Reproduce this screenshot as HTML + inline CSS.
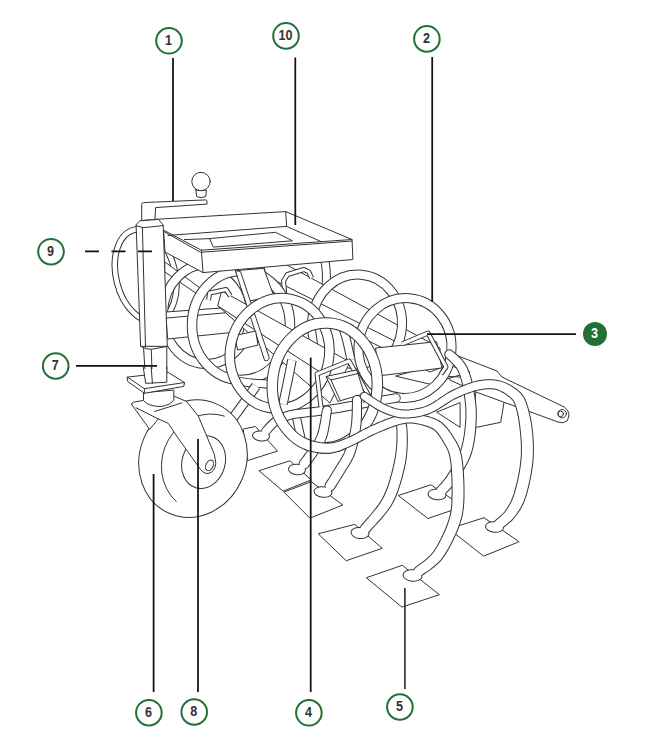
<!DOCTYPE html>
<html><head><meta charset="utf-8"><style>
html,body{margin:0;padding:0;background:#fff;width:647px;height:756px;overflow:hidden}
svg{display:block}
.d{fill:#fff;stroke:#333;stroke-width:1.0;stroke-linejoin:round;stroke-linecap:round}
.n{fill:none;stroke:#333;stroke-width:1.0;stroke-linejoin:round;stroke-linecap:round}
.ld{stroke:#111;stroke-width:1.75;fill:none}
.c{fill:#fff;stroke:#236f38;stroke-width:2}
.t{font-family:"Liberation Sans",sans-serif;font-weight:bold;font-size:14px;fill:#333;text-anchor:middle}
</style></head><body>
<svg width="647" height="756" viewBox="0 0 647 756">
<g id="drawing">
<path class="d" d="M476.4,389.8 L504.2,401.4 L500.7,422.3 L472.9,428.1 Z"/>
<path class="d" d="M453,354 L497,371 L502,377 L564.5,407.2 Q572,413 567,421 Q563,424 558,422 L476,392 L450,380 Z"/>
<circle class="d" cx="562.2" cy="413.7" r="4.2"/>
<circle class="n" cx="560.6" cy="413.9" r="2.8"/>
<path class="d" d="M396,376 L442,363 L470,372 L430,384 Z"/>
<path class="d" d="M437,412 L460.1,402.6 L460.1,427 Z"/>
<path class="n" d="M439.3,376 L460,377"/>
<path d="M324,258 Q327.5,268 326,290" fill="none" stroke="#333" stroke-width="9.00" stroke-linecap="butt" stroke-linejoin="round"/>
<path d="M324,258 Q327.5,268 326,290" fill="none" stroke="#fff" stroke-width="7.00" stroke-linecap="butt" stroke-linejoin="round"/>
<path class="d" d="M264,262 L274,258 L440,348 L440,368 L430,372 L268,290 Z"/>
<path class="n" d="M266,276 L432,360"/>
<path d="M284.7,293 L283.5,281 L287.5,274.5 L304,269.5 L308.6,271.7 L311.7,278" fill="none" stroke="#333" stroke-width="5.00" stroke-linecap="butt" stroke-linejoin="round"/>
<path d="M284.7,293 L283.5,281 L287.5,274.5 L304,269.5 L308.6,271.7 L311.7,278" fill="none" stroke="#fff" stroke-width="3.00" stroke-linecap="butt" stroke-linejoin="round"/>
<ellipse cx="357" cy="324" rx="45" ry="49.5" transform="rotate(5 357 324)" fill="none" stroke="#333" stroke-width="10.00"/>
<ellipse cx="357" cy="324" rx="45" ry="49.5" transform="rotate(5 357 324)" fill="none" stroke="#fff" stroke-width="8.00"/>
<ellipse cx="405" cy="348" rx="46.5" ry="50" transform="rotate(5 405 348)" fill="none" stroke="#333" stroke-width="10.00"/>
<ellipse cx="405" cy="348" rx="46.5" ry="50" transform="rotate(5 405 348)" fill="none" stroke="#fff" stroke-width="8.00"/>
<path class="d" d="M376,348 L436.6,341.7 L441.9,368 L378.8,375.9 Z"/>
<path d="M402,344 L428,333 L446,367 L441,374" fill="none" stroke="#333" stroke-width="5.00" stroke-linecap="butt" stroke-linejoin="round"/>
<path d="M402,344 L428,333 L446,367 L441,374" fill="none" stroke="#fff" stroke-width="3.00" stroke-linecap="butt" stroke-linejoin="round"/>
<ellipse cx="145.6" cy="275.4" rx="29.5" ry="47" transform="rotate(-14 145.6 275.4)" fill="none" stroke="#333" stroke-width="6.50"/>
<ellipse cx="145.6" cy="275.4" rx="29.5" ry="47" transform="rotate(-14 145.6 275.4)" fill="none" stroke="#fff" stroke-width="4.50"/>
<path class="d" d="M165,262 L200,288 L200,296 L165,272 Z"/>
<ellipse cx="207" cy="314" rx="44" ry="50" transform="rotate(3 207 314)" fill="none" stroke="#333" stroke-width="10.00"/>
<ellipse cx="207" cy="314" rx="44" ry="50" transform="rotate(3 207 314)" fill="none" stroke="#fff" stroke-width="8.00"/>
<path class="d" d="M166,312 L235,307 L236,332 L168,339 Z"/>
<path class="n" d="M167,318 L235,312"/>
<ellipse cx="241" cy="325.4" rx="49" ry="54.5" transform="rotate(0 241 325.4)" fill="none" stroke="#333" stroke-width="10.50"/>
<ellipse cx="241" cy="325.4" rx="49" ry="54.5" transform="rotate(0 241 325.4)" fill="none" stroke="#fff" stroke-width="8.50"/>
<path d="M319,326 C319.3,328.3 320.3,334.8 321,340 C321.7,345.2 322.7,354.2 323,357" fill="none" stroke="#333" stroke-width="9.00" stroke-linecap="butt" stroke-linejoin="round"/>
<path d="M319,326 C319.3,328.3 320.3,334.8 321,340 C321.7,345.2 322.7,354.2 323,357" fill="none" stroke="#fff" stroke-width="7.00" stroke-linecap="butt" stroke-linejoin="round"/>
<path d="M343,328 C343.7,330.3 345.7,336.7 347,342 C348.3,347.3 350.3,357.0 351,360" fill="none" stroke="#333" stroke-width="9.00" stroke-linecap="butt" stroke-linejoin="round"/>
<path d="M343,328 C343.7,330.3 345.7,336.7 347,342 C348.3,347.3 350.3,357.0 351,360" fill="none" stroke="#fff" stroke-width="7.00" stroke-linecap="butt" stroke-linejoin="round"/>
<path d="M294,404 C294.5,406.7 295.8,414.3 297,420 C298.2,425.7 300.3,435.0 301,438" fill="none" stroke="#333" stroke-width="9.00" stroke-linecap="butt" stroke-linejoin="round"/>
<path d="M294,404 C294.5,406.7 295.8,414.3 297,420 C298.2,425.7 300.3,435.0 301,438" fill="none" stroke="#fff" stroke-width="7.00" stroke-linecap="butt" stroke-linejoin="round"/>
<path class="d" d="M222,291 L350,362 L330,403 L236,322 L218,306 Z"/>
<path class="n" d="M218,306 L320,372"/>
<path d="M208.5,300 L209.7,293 L226,289.5 L230.3,296" fill="none" stroke="#333" stroke-width="5.00" stroke-linecap="butt" stroke-linejoin="round"/>
<path d="M208.5,300 L209.7,293 L226,289.5 L230.3,296" fill="none" stroke="#fff" stroke-width="3.00" stroke-linecap="butt" stroke-linejoin="round"/>
<path class="d" d="M235.7,270.6 L263.8,268.4 L273.6,295.5 L250,301 Z"/>
<path class="d" d="M235.7,270.6 L240.5,271.6 L269.2,357.5 Q269,361.5 265,360.5 Z"/>
<path class="d" d="M234.8,335.6 L255.6,331 L258,345 L238,350 Z"/>
<path d="M236,381 C238.7,381.3 246.7,382.5 252,383 C257.3,383.5 265.3,383.8 268,384" fill="none" stroke="#333" stroke-width="9.00" stroke-linecap="butt" stroke-linejoin="round"/>
<path d="M236,381 C238.7,381.3 246.7,382.5 252,383 C257.3,383.5 265.3,383.8 268,384" fill="none" stroke="#fff" stroke-width="7.00" stroke-linecap="butt" stroke-linejoin="round"/>
<path d="M233,418 C234.8,415.5 240.2,408.3 244,403 C247.8,397.7 254.0,388.8 256,386" fill="none" stroke="#333" stroke-width="10.00" stroke-linecap="butt" stroke-linejoin="round"/>
<path d="M233,418 C234.8,415.5 240.2,408.3 244,403 C247.8,397.7 254.0,388.8 256,386" fill="none" stroke="#fff" stroke-width="8.00" stroke-linecap="butt" stroke-linejoin="round"/>
<ellipse cx="279.6" cy="353.4" rx="49.5" ry="55.5" transform="rotate(12 279.6 353.4)" fill="none" stroke="#333" stroke-width="10.50"/>
<ellipse cx="279.6" cy="353.4" rx="49.5" ry="55.5" transform="rotate(12 279.6 353.4)" fill="none" stroke="#fff" stroke-width="8.50"/>
<path d="M292,360 C291.3,363.3 289.5,372.7 288,380 C286.5,387.3 283.8,400.0 283,404" fill="none" stroke="#333" stroke-width="9.50" stroke-linecap="butt" stroke-linejoin="round"/>
<path d="M292,360 C291.3,363.3 289.5,372.7 288,380 C286.5,387.3 283.8,400.0 283,404" fill="none" stroke="#fff" stroke-width="7.50" stroke-linecap="butt" stroke-linejoin="round"/>
<path class="d" d="M243.5,429 L255.4,426.5 L277.5,451.1 L247.8,460.5 Z"/>
<path d="M266,431 C267.7,429.3 272.0,423.7 276,421 C280.0,418.3 282.7,416.7 290,415 C297.3,413.3 310.0,412.5 320,411 C330.0,409.5 341.3,407.5 350,406 C358.7,404.5 364.3,403.3 372,402 C379.7,400.7 392.0,398.7 396,398" fill="none" stroke="#333" stroke-width="9.50" stroke-linecap="round" stroke-linejoin="round"/>
<ellipse cx="261" cy="436" rx="9.0" ry="5.5" transform="rotate(6 261 436)" fill="#333"/>
<path d="M266,431 C267.7,429.3 272.0,423.7 276,421 C280.0,418.3 282.7,416.7 290,415 C297.3,413.3 310.0,412.5 320,411 C330.0,409.5 341.3,407.5 350,406 C358.7,404.5 364.3,403.3 372,402 C379.7,400.7 392.0,398.7 396,398" fill="none" stroke="#fff" stroke-width="7.50" stroke-linecap="round" stroke-linejoin="round"/>
<ellipse cx="261" cy="436" rx="8" ry="4.5" transform="rotate(6 261 436)" fill="#fff"/>
<ellipse cx="324.8" cy="385.4" rx="52.5" ry="62.5" transform="rotate(3 324.8 385.4)" fill="none" stroke="#333" stroke-width="11.50"/>
<ellipse cx="324.8" cy="385.4" rx="52.5" ry="62.5" transform="rotate(3 324.8 385.4)" fill="none" stroke="#fff" stroke-width="9.50"/>
<path d="M321,407 L317,374 L349,361 L369,396 L362,401" fill="none" stroke="#333" stroke-width="5.00" stroke-linecap="butt" stroke-linejoin="round"/>
<path d="M321,407 L317,374 L349,361 L369,396 L362,401" fill="none" stroke="#fff" stroke-width="3.00" stroke-linecap="butt" stroke-linejoin="round"/>
<path class="d" d="M326.4,376.4 L356.7,369.9 L364.3,393.7 L338.3,401.3 Z"/>
<path class="n" d="M326.4,376.4 L331,380 L360,373 M331,380 L340,400"/>
<path class="d" d="M259.3,470.6 L289.9,460.8 L311.2,479.9 L283.4,491 Z"/>
<path class="d" d="M284.3,492 L311.2,481.7 L342.8,505 L310.3,518 Z"/>
<path class="d" d="M318.6,533.7 L354.8,524.4 L382.2,548.3 L346.6,560.6 Z"/>
<path class="d" d="M398.7,495.4 L430.8,484.8 L463,506.5 L428.3,518.4 Z"/>
<path class="d" d="M449.3,528.8 L484,517.7 L519.1,541.7 L484,556 Z"/>
<path class="d" d="M366.7,577.6 L402.3,565.3 L439.4,594.7 L402.3,607 Z"/>
<path d="M446.2,356.8 L446.9,357.6 L447.8,358.4 L448.8,359.3 L449.9,360.3 L451.0,361.4 L452.2,362.5 L453.4,363.7 L454.6,364.9 L455.7,366.2 L456.7,367.4 L457.5,368.7 L458.3,370.0 L458.9,371.4 L459.6,373.0 L460.2,374.7 L460.9,376.5 L461.4,378.4 L462.0,380.3 L462.5,382.3 L463.0,384.3 L463.4,386.4 L463.8,388.5 L464.2,390.6 L464.6,392.8 L464.9,394.9 L465.2,397.0 L465.5,399.2 L465.7,401.4 L466.0,403.6 L466.1,405.9 L466.3,408.1 L466.4,410.4 L466.4,412.7 L466.4,415.0 L466.4,417.4 L466.3,419.8 L466.1,422.2 L465.9,424.8 L465.7,427.4 L465.4,430.1 L465.1,432.8 L464.7,435.4 L464.2,438.1 L463.8,440.7 L463.2,443.3 L462.6,445.8 L462.0,448.2 L461.3,450.4 L460.5,452.6 L459.6,454.9 L458.6,457.1 L457.5,459.3 L456.4,461.6 L455.2,463.8 L453.9,465.9 L452.7,468.0 L451.4,470.0 L450.2,471.9 L449.1,473.7 L448.0,475.4 L447.1,476.9 L446.1,478.2 L445.1,479.5 L444.1,480.8 L443.2,481.9 L442.2,483.0 L441.3,484.0 L440.4,484.9 L439.6,485.8 L438.9,486.6 L438.2,487.4 L437.6,488.0 A4.50,4.50 0 0 0 444.4,494.0 L444.4,494.0 L444.8,493.5 L445.4,492.9 L446.2,492.1 L447.0,491.3 L448.0,490.3 L449.0,489.3 L450.1,488.1 L451.3,486.8 L452.4,485.4 L453.6,483.9 L454.8,482.3 L456.0,480.6 L457.1,478.9 L458.3,477.1 L459.6,475.1 L460.9,473.1 L462.2,470.9 L463.6,468.6 L464.9,466.3 L466.3,463.8 L467.5,461.3 L468.7,458.8 L469.8,456.2 L470.7,453.6 L471.5,450.9 L472.2,448.2 L472.9,445.4 L473.4,442.5 L473.9,439.7 L474.3,436.8 L474.7,434.0 L475.0,431.1 L475.2,428.3 L475.5,425.5 L475.6,422.8 L475.7,420.2 L475.8,417.6 L475.8,415.1 L475.8,412.5 L475.7,410.0 L475.6,407.6 L475.4,405.1 L475.1,402.7 L474.8,400.4 L474.5,398.0 L474.2,395.7 L473.8,393.5 L473.4,391.2 L473.0,389.0 L472.6,386.8 L472.1,384.5 L471.6,382.3 L471.0,380.1 L470.4,378.0 L469.8,375.8 L469.1,373.7 L468.3,371.7 L467.5,369.7 L466.7,367.8 L465.7,366.0 L464.6,364.2 L463.4,362.4 L462.1,360.8 L460.7,359.2 L459.3,357.8 L457.9,356.5 L456.6,355.3 L455.3,354.2 L454.2,353.2 L453.2,352.4 L452.4,351.7 L451.8,351.2 A4.00,4.00 0 0 0 446.2,356.8 Z" fill="#333" stroke="#333" stroke-width="2.00" stroke-linejoin="round"/>
<ellipse cx="437" cy="494.5" rx="9.5" ry="5.8" transform="rotate(6 437 494.5)" fill="#333"/>
<path d="M446.2,356.8 L446.9,357.6 L447.8,358.4 L448.8,359.3 L449.9,360.3 L451.0,361.4 L452.2,362.5 L453.4,363.7 L454.6,364.9 L455.7,366.2 L456.7,367.4 L457.5,368.7 L458.3,370.0 L458.9,371.4 L459.6,373.0 L460.2,374.7 L460.9,376.5 L461.4,378.4 L462.0,380.3 L462.5,382.3 L463.0,384.3 L463.4,386.4 L463.8,388.5 L464.2,390.6 L464.6,392.8 L464.9,394.9 L465.2,397.0 L465.5,399.2 L465.7,401.4 L466.0,403.6 L466.1,405.9 L466.3,408.1 L466.4,410.4 L466.4,412.7 L466.4,415.0 L466.4,417.4 L466.3,419.8 L466.1,422.2 L465.9,424.8 L465.7,427.4 L465.4,430.1 L465.1,432.8 L464.7,435.4 L464.2,438.1 L463.8,440.7 L463.2,443.3 L462.6,445.8 L462.0,448.2 L461.3,450.4 L460.5,452.6 L459.6,454.9 L458.6,457.1 L457.5,459.3 L456.4,461.6 L455.2,463.8 L453.9,465.9 L452.7,468.0 L451.4,470.0 L450.2,471.9 L449.1,473.7 L448.0,475.4 L447.1,476.9 L446.1,478.2 L445.1,479.5 L444.1,480.8 L443.2,481.9 L442.2,483.0 L441.3,484.0 L440.4,484.9 L439.6,485.8 L438.9,486.6 L438.2,487.4 L437.6,488.0 A4.50,4.50 0 0 0 444.4,494.0 L444.4,494.0 L444.8,493.5 L445.4,492.9 L446.2,492.1 L447.0,491.3 L448.0,490.3 L449.0,489.3 L450.1,488.1 L451.3,486.8 L452.4,485.4 L453.6,483.9 L454.8,482.3 L456.0,480.6 L457.1,478.9 L458.3,477.1 L459.6,475.1 L460.9,473.1 L462.2,470.9 L463.6,468.6 L464.9,466.3 L466.3,463.8 L467.5,461.3 L468.7,458.8 L469.8,456.2 L470.7,453.6 L471.5,450.9 L472.2,448.2 L472.9,445.4 L473.4,442.5 L473.9,439.7 L474.3,436.8 L474.7,434.0 L475.0,431.1 L475.2,428.3 L475.5,425.5 L475.6,422.8 L475.7,420.2 L475.8,417.6 L475.8,415.1 L475.8,412.5 L475.7,410.0 L475.6,407.6 L475.4,405.1 L475.1,402.7 L474.8,400.4 L474.5,398.0 L474.2,395.7 L473.8,393.5 L473.4,391.2 L473.0,389.0 L472.6,386.8 L472.1,384.5 L471.6,382.3 L471.0,380.1 L470.4,378.0 L469.8,375.8 L469.1,373.7 L468.3,371.7 L467.5,369.7 L466.7,367.8 L465.7,366.0 L464.6,364.2 L463.4,362.4 L462.1,360.8 L460.7,359.2 L459.3,357.8 L457.9,356.5 L456.6,355.3 L455.3,354.2 L454.2,353.2 L453.2,352.4 L452.4,351.7 L451.8,351.2 A4.00,4.00 0 0 0 446.2,356.8 Z" fill="#fff"/>
<ellipse cx="437" cy="494.5" rx="8.5" ry="4.8" transform="rotate(6 437 494.5)" fill="#fff"/>
<path d="M307.6,466.7 L308.0,466.2 L308.4,465.6 L309.0,464.9 L309.6,464.1 L310.2,463.2 L311.0,462.3 L311.7,461.2 L312.5,460.2 L313.3,459.0 L314.2,457.9 L315.0,456.7 L315.8,455.5 L316.5,454.3 L317.3,453.2 L318.1,451.9 L319.0,450.6 L319.9,449.3 L320.9,447.8 L321.8,446.3 L322.7,444.7 L323.6,443.0 L324.5,441.2 L325.3,439.4 L326.0,437.4 L326.7,435.2 L327.3,432.9 L327.8,430.4 L328.3,427.8 L328.8,425.2 L329.2,422.6 L329.6,420.1 L329.9,417.7 L330.2,415.5 L330.5,413.5 L330.7,411.9 L330.9,410.7 A4.00,4.00 0 0 0 323.1,409.3 L323.1,409.3 L322.8,410.6 L322.5,412.3 L322.2,414.3 L321.9,416.5 L321.5,418.8 L321.1,421.3 L320.6,423.8 L320.1,426.2 L319.6,428.6 L319.1,430.9 L318.5,432.9 L318.0,434.6 L317.4,436.1 L316.7,437.6 L316.0,439.0 L315.2,440.4 L314.4,441.7 L313.5,443.0 L312.6,444.3 L311.7,445.6 L310.8,446.8 L309.9,448.1 L309.1,449.3 L308.2,450.5 L307.5,451.7 L306.8,452.8 L306.0,453.8 L305.2,454.9 L304.5,455.9 L303.8,456.9 L303.1,457.8 L302.4,458.6 L301.8,459.4 L301.3,460.1 L300.8,460.8 L300.4,461.3 A4.50,4.50 0 0 0 307.6,466.7 Z" fill="#333" stroke="#333" stroke-width="2.00" stroke-linejoin="round"/>
<ellipse cx="297" cy="469.5" rx="9.0" ry="5.8" transform="rotate(6 297 469.5)" fill="#333"/>
<path d="M307.6,466.7 L308.0,466.2 L308.4,465.6 L309.0,464.9 L309.6,464.1 L310.2,463.2 L311.0,462.3 L311.7,461.2 L312.5,460.2 L313.3,459.0 L314.2,457.9 L315.0,456.7 L315.8,455.5 L316.5,454.3 L317.3,453.2 L318.1,451.9 L319.0,450.6 L319.9,449.3 L320.9,447.8 L321.8,446.3 L322.7,444.7 L323.6,443.0 L324.5,441.2 L325.3,439.4 L326.0,437.4 L326.7,435.2 L327.3,432.9 L327.8,430.4 L328.3,427.8 L328.8,425.2 L329.2,422.6 L329.6,420.1 L329.9,417.7 L330.2,415.5 L330.5,413.5 L330.7,411.9 L330.9,410.7 A4.00,4.00 0 0 0 323.1,409.3 L323.1,409.3 L322.8,410.6 L322.5,412.3 L322.2,414.3 L321.9,416.5 L321.5,418.8 L321.1,421.3 L320.6,423.8 L320.1,426.2 L319.6,428.6 L319.1,430.9 L318.5,432.9 L318.0,434.6 L317.4,436.1 L316.7,437.6 L316.0,439.0 L315.2,440.4 L314.4,441.7 L313.5,443.0 L312.6,444.3 L311.7,445.6 L310.8,446.8 L309.9,448.1 L309.1,449.3 L308.2,450.5 L307.5,451.7 L306.8,452.8 L306.0,453.8 L305.2,454.9 L304.5,455.9 L303.8,456.9 L303.1,457.8 L302.4,458.6 L301.8,459.4 L301.3,460.1 L300.8,460.8 L300.4,461.3 A4.50,4.50 0 0 0 307.6,466.7 Z" fill="#fff"/>
<ellipse cx="297" cy="469.5" rx="8" ry="4.8" transform="rotate(6 297 469.5)" fill="#fff"/>
<path d="M333.8,488.4 L334.3,487.6 L334.9,486.7 L335.6,485.6 L336.4,484.3 L337.3,483.0 L338.2,481.5 L339.1,480.0 L340.1,478.5 L341.1,476.9 L342.1,475.3 L343.0,473.8 L343.9,472.3 L344.7,470.9 L345.5,469.6 L346.4,468.3 L347.3,466.9 L348.2,465.4 L349.1,464.0 L350.0,462.4 L350.9,460.8 L351.8,459.1 L352.7,457.4 L353.5,455.5 L354.2,453.6 L354.9,451.5 L355.6,449.4 L356.2,447.3 L356.8,445.0 L357.3,442.8 L357.8,440.5 L358.3,438.1 L358.8,435.8 L359.2,433.5 L359.6,431.1 L359.9,428.8 L360.2,426.5 L360.5,424.2 L360.7,421.7 L360.8,419.1 L360.9,416.5 L361.0,414.0 L361.0,411.4 L361.0,409.0 L361.0,406.8 L361.0,404.7 L361.0,402.9 L361.0,401.3 L361.0,400.1 A4.00,4.00 0 0 0 353.0,399.9 L353.0,399.9 L352.9,401.2 L352.9,402.8 L352.9,404.6 L352.8,406.7 L352.8,408.9 L352.8,411.3 L352.7,413.7 L352.6,416.2 L352.4,418.7 L352.3,421.1 L352.1,423.3 L351.8,425.5 L351.5,427.6 L351.1,429.7 L350.7,431.9 L350.3,434.1 L349.8,436.3 L349.3,438.5 L348.8,440.7 L348.2,442.8 L347.6,444.9 L347.0,446.8 L346.4,448.7 L345.8,450.4 L345.1,452.1 L344.5,453.6 L343.8,455.1 L343.0,456.5 L342.2,457.9 L341.4,459.3 L340.6,460.7 L339.7,462.0 L338.8,463.4 L337.9,464.8 L337.0,466.2 L336.1,467.7 L335.3,469.1 L334.4,470.6 L333.4,472.1 L332.5,473.7 L331.5,475.2 L330.6,476.7 L329.7,478.2 L328.8,479.5 L328.0,480.8 L327.3,481.9 L326.7,482.8 L326.2,483.6 A4.50,4.50 0 0 0 333.8,488.4 Z" fill="#333" stroke="#333" stroke-width="2.00" stroke-linejoin="round"/>
<ellipse cx="323" cy="492" rx="9.5" ry="5.8" transform="rotate(6 323 492)" fill="#333"/>
<path d="M333.8,488.4 L334.3,487.6 L334.9,486.7 L335.6,485.6 L336.4,484.3 L337.3,483.0 L338.2,481.5 L339.1,480.0 L340.1,478.5 L341.1,476.9 L342.1,475.3 L343.0,473.8 L343.9,472.3 L344.7,470.9 L345.5,469.6 L346.4,468.3 L347.3,466.9 L348.2,465.4 L349.1,464.0 L350.0,462.4 L350.9,460.8 L351.8,459.1 L352.7,457.4 L353.5,455.5 L354.2,453.6 L354.9,451.5 L355.6,449.4 L356.2,447.3 L356.8,445.0 L357.3,442.8 L357.8,440.5 L358.3,438.1 L358.8,435.8 L359.2,433.5 L359.6,431.1 L359.9,428.8 L360.2,426.5 L360.5,424.2 L360.7,421.7 L360.8,419.1 L360.9,416.5 L361.0,414.0 L361.0,411.4 L361.0,409.0 L361.0,406.8 L361.0,404.7 L361.0,402.9 L361.0,401.3 L361.0,400.1 A4.00,4.00 0 0 0 353.0,399.9 L353.0,399.9 L352.9,401.2 L352.9,402.8 L352.9,404.6 L352.8,406.7 L352.8,408.9 L352.8,411.3 L352.7,413.7 L352.6,416.2 L352.4,418.7 L352.3,421.1 L352.1,423.3 L351.8,425.5 L351.5,427.6 L351.1,429.7 L350.7,431.9 L350.3,434.1 L349.8,436.3 L349.3,438.5 L348.8,440.7 L348.2,442.8 L347.6,444.9 L347.0,446.8 L346.4,448.7 L345.8,450.4 L345.1,452.1 L344.5,453.6 L343.8,455.1 L343.0,456.5 L342.2,457.9 L341.4,459.3 L340.6,460.7 L339.7,462.0 L338.8,463.4 L337.9,464.8 L337.0,466.2 L336.1,467.7 L335.3,469.1 L334.4,470.6 L333.4,472.1 L332.5,473.7 L331.5,475.2 L330.6,476.7 L329.7,478.2 L328.8,479.5 L328.0,480.8 L327.3,481.9 L326.7,482.8 L326.2,483.6 A4.50,4.50 0 0 0 333.8,488.4 Z" fill="#fff"/>
<ellipse cx="323" cy="492" rx="8.5" ry="4.8" transform="rotate(6 323 492)" fill="#fff"/>
<path d="M394.2,417.3 L394.4,418.1 L394.8,419.0 L395.1,419.8 L395.5,420.7 L395.8,421.6 L396.2,422.5 L396.5,423.6 L396.8,424.7 L397.1,425.9 L397.3,427.2 L397.4,428.6 L397.5,430.2 L397.5,432.2 L397.5,434.3 L397.5,436.6 L397.5,439.1 L397.4,441.6 L397.3,444.3 L397.1,447.0 L396.8,449.8 L396.5,452.6 L396.1,455.4 L395.6,458.3 L395.1,461.0 L394.5,463.9 L393.8,467.0 L393.1,470.1 L392.3,473.3 L391.4,476.5 L390.5,479.8 L389.5,483.0 L388.5,486.1 L387.3,489.2 L386.1,492.2 L384.9,495.0 L383.6,497.7 L382.2,500.2 L380.5,502.9 L378.6,505.7 L376.5,508.4 L374.3,511.1 L372.2,513.8 L370.0,516.3 L367.9,518.7 L366.0,520.9 L364.2,522.9 L362.7,524.7 L361.5,526.1 A4.50,4.50 0 0 0 368.5,531.9 L368.5,531.9 L369.6,530.6 L371.0,529.0 L372.8,527.1 L374.8,524.9 L377.0,522.6 L379.3,520.0 L381.7,517.3 L384.1,514.4 L386.4,511.5 L388.6,508.5 L390.6,505.4 L392.4,502.3 L393.9,499.2 L395.4,496.1 L396.7,492.8 L397.9,489.4 L399.0,486.0 L400.1,482.6 L401.1,479.2 L402.0,475.8 L402.8,472.5 L403.6,469.2 L404.3,466.0 L404.9,463.0 L405.4,459.9 L405.9,456.8 L406.2,453.7 L406.4,450.6 L406.6,447.6 L406.7,444.7 L406.8,441.9 L406.8,439.2 L406.8,436.6 L406.7,434.1 L406.6,431.9 L406.5,429.8 L406.3,427.7 L406.0,425.7 L405.6,423.9 L405.1,422.3 L404.6,420.8 L404.1,419.5 L403.6,418.3 L403.1,417.3 L402.6,416.4 L402.2,415.7 L402.0,415.2 L401.8,414.7 A4.00,4.00 0 0 0 394.2,417.3 Z" fill="#333" stroke="#333" stroke-width="2.00" stroke-linejoin="round"/>
<ellipse cx="360" cy="533" rx="9.5" ry="6.0" transform="rotate(6 360 533)" fill="#333"/>
<path d="M394.2,417.3 L394.4,418.1 L394.8,419.0 L395.1,419.8 L395.5,420.7 L395.8,421.6 L396.2,422.5 L396.5,423.6 L396.8,424.7 L397.1,425.9 L397.3,427.2 L397.4,428.6 L397.5,430.2 L397.5,432.2 L397.5,434.3 L397.5,436.6 L397.5,439.1 L397.4,441.6 L397.3,444.3 L397.1,447.0 L396.8,449.8 L396.5,452.6 L396.1,455.4 L395.6,458.3 L395.1,461.0 L394.5,463.9 L393.8,467.0 L393.1,470.1 L392.3,473.3 L391.4,476.5 L390.5,479.8 L389.5,483.0 L388.5,486.1 L387.3,489.2 L386.1,492.2 L384.9,495.0 L383.6,497.7 L382.2,500.2 L380.5,502.9 L378.6,505.7 L376.5,508.4 L374.3,511.1 L372.2,513.8 L370.0,516.3 L367.9,518.7 L366.0,520.9 L364.2,522.9 L362.7,524.7 L361.5,526.1 A4.50,4.50 0 0 0 368.5,531.9 L368.5,531.9 L369.6,530.6 L371.0,529.0 L372.8,527.1 L374.8,524.9 L377.0,522.6 L379.3,520.0 L381.7,517.3 L384.1,514.4 L386.4,511.5 L388.6,508.5 L390.6,505.4 L392.4,502.3 L393.9,499.2 L395.4,496.1 L396.7,492.8 L397.9,489.4 L399.0,486.0 L400.1,482.6 L401.1,479.2 L402.0,475.8 L402.8,472.5 L403.6,469.2 L404.3,466.0 L404.9,463.0 L405.4,459.9 L405.9,456.8 L406.2,453.7 L406.4,450.6 L406.6,447.6 L406.7,444.7 L406.8,441.9 L406.8,439.2 L406.8,436.6 L406.7,434.1 L406.6,431.9 L406.5,429.8 L406.3,427.7 L406.0,425.7 L405.6,423.9 L405.1,422.3 L404.6,420.8 L404.1,419.5 L403.6,418.3 L403.1,417.3 L402.6,416.4 L402.2,415.7 L402.0,415.2 L401.8,414.7 A4.00,4.00 0 0 0 394.2,417.3 Z" fill="#fff"/>
<ellipse cx="360" cy="533" rx="8.5" ry="5" transform="rotate(6 360 533)" fill="#fff"/>
<clipPath id="c6"><rect x="304" y="0" width="343" height="756"/></clipPath><g clip-path="url(#c6)">
<path d="M293.2,443.9 L293.6,444.1 L294.1,444.3 L294.8,444.5 L295.5,444.8 L296.2,445.1 L297.0,445.5 L297.9,445.8 L298.7,446.2 L299.6,446.5 L300.5,446.9 L301.3,447.2 L302.0,447.5 L302.6,447.7 L303.1,448.0 L303.7,448.2 L304.2,448.5 L304.9,448.9 L305.6,449.2 L306.4,449.5 L307.2,449.9 L308.2,450.2 L309.3,450.5 L310.4,450.8 L311.6,451.1 L312.8,451.3 L314.2,451.5 L315.6,451.7 L317.1,452.0 L318.8,452.2 L320.4,452.4 L322.2,452.5 L324.0,452.7 L325.8,452.7 L327.6,452.7 L329.4,452.7 L331.2,452.5 L332.9,452.2 L334.6,451.8 L336.2,451.4 L337.7,451.0 L339.3,450.5 L340.8,449.9 L342.4,449.3 L343.9,448.6 L345.5,448.0 L347.1,447.2 L348.8,446.5 L350.6,445.7 L352.5,444.8 L354.5,443.9 L356.6,442.8 L358.7,441.8 L360.8,440.6 L363.0,439.5 L365.1,438.4 L367.3,437.2 L369.4,436.1 L371.5,435.1 L373.6,434.1 L375.6,433.2 L377.7,432.2 L379.8,431.3 L382.0,430.4 L384.2,429.5 L386.3,428.6 L388.5,427.8 L390.6,426.9 L392.6,426.2 L394.6,425.5 L396.5,424.9 L398.3,424.3 L400.0,423.9 L401.6,423.5 L403.0,423.2 L404.4,422.9 L405.7,422.7 L406.9,422.6 L408.0,422.5 L409.2,422.5 L410.3,422.5 L411.5,422.6 L412.7,422.6 L414.0,422.8 L415.5,423.0 L417.0,423.2 L418.6,423.5 L420.2,423.9 L421.8,424.3 L423.5,424.7 L425.2,425.2 L426.8,425.7 L428.4,426.2 L429.9,426.8 L431.3,427.5 L432.5,428.1 L433.6,428.8 L434.6,429.6 L435.6,430.3 L436.5,431.2 L437.4,432.1 L438.2,433.1 L439.0,434.2 L439.8,435.3 L440.6,436.4 L441.4,437.7 L442.2,438.9 L442.9,440.2 L443.7,441.6 L444.6,443.0 L445.3,444.3 L446.1,445.5 L446.8,446.7 L447.4,447.9 L448.0,449.2 L448.6,450.4 L449.1,451.8 L449.6,453.3 L450.0,454.9 L450.4,456.8 L450.8,458.9 L451.2,461.3 L451.5,464.1 L451.8,467.1 L452.0,470.4 L452.2,473.8 L452.4,477.3 L452.5,480.8 L452.6,484.4 L452.6,487.8 L452.6,491.0 L452.6,494.1 L452.5,496.9 L452.4,499.4 L452.4,501.8 L452.3,503.9 L452.2,506.0 L452.0,507.9 L451.8,509.7 L451.5,511.5 L451.2,513.3 L450.8,515.1 L450.3,517.0 L449.7,519.1 L449.0,521.3 L448.2,523.7 L447.2,526.2 L446.2,528.9 L445.0,531.7 L443.7,534.5 L442.4,537.3 L441.0,540.1 L439.6,542.8 L438.2,545.4 L436.8,547.8 L435.3,550.0 L434.0,552.0 L432.6,553.8 L431.1,555.5 L429.5,557.1 L427.8,558.7 L426.0,560.3 L424.1,561.7 L422.4,563.1 L420.6,564.3 L419.0,565.5 L417.6,566.6 L416.2,567.6 L415.2,568.5 A4.50,4.50 0 0 0 420.8,575.5 L420.8,575.5 L421.7,574.9 L422.9,574.1 L424.3,573.1 L426.0,572.0 L427.9,570.7 L429.9,569.3 L431.9,567.8 L434.0,566.1 L436.1,564.3 L438.2,562.3 L440.2,560.2 L442.0,558.0 L443.7,555.6 L445.3,553.1 L446.9,550.5 L448.5,547.7 L450.1,544.8 L451.6,541.8 L453.0,538.8 L454.4,535.9 L455.7,532.9 L456.9,530.1 L458.0,527.3 L459.0,524.7 L459.8,522.3 L460.5,519.9 L461.1,517.7 L461.7,515.5 L462.1,513.3 L462.4,511.2 L462.7,509.0 L463.0,506.8 L463.1,504.6 L463.3,502.3 L463.4,499.8 L463.5,497.1 L463.5,494.2 L463.5,491.0 L463.5,487.6 L463.4,484.1 L463.3,480.5 L463.1,476.8 L462.9,473.2 L462.7,469.6 L462.4,466.2 L462.0,462.9 L461.6,459.9 L461.2,457.1 L460.7,454.6 L460.1,452.3 L459.5,450.2 L458.8,448.2 L458.0,446.4 L457.2,444.7 L456.4,443.2 L455.6,441.7 L454.8,440.3 L453.9,439.0 L453.1,437.7 L452.3,436.4 L451.4,435.0 L450.5,433.6 L449.5,432.3 L448.6,430.9 L447.5,429.5 L446.5,428.2 L445.3,426.9 L444.1,425.7 L442.8,424.4 L441.4,423.3 L440.0,422.2 L438.4,421.2 L436.7,420.3 L434.9,419.4 L433.1,418.7 L431.2,418.1 L429.4,417.5 L427.4,417.0 L425.5,416.5 L423.6,416.1 L421.8,415.8 L420.0,415.5 L418.2,415.2 L416.5,415.0 L415.0,414.8 L413.4,414.7 L412.0,414.6 L410.5,414.5 L409.1,414.5 L407.6,414.5 L406.1,414.6 L404.6,414.8 L403.1,415.0 L401.5,415.3 L399.8,415.7 L398.0,416.1 L396.1,416.6 L394.1,417.2 L392.0,417.9 L389.9,418.7 L387.7,419.5 L385.5,420.3 L383.3,421.2 L381.1,422.1 L378.9,423.0 L376.7,424.0 L374.5,424.9 L372.4,425.8 L370.2,426.8 L368.0,427.9 L365.8,429.0 L363.6,430.1 L361.4,431.3 L359.2,432.4 L357.1,433.6 L355.0,434.7 L353.0,435.7 L351.0,436.7 L349.2,437.5 L347.4,438.3 L345.7,439.0 L344.0,439.7 L342.4,440.3 L340.9,440.9 L339.4,441.4 L338.0,441.9 L336.7,442.3 L335.4,442.6 L334.1,442.9 L332.8,443.2 L331.5,443.4 L330.2,443.5 L328.9,443.6 L327.5,443.7 L326.1,443.6 L324.6,443.5 L323.1,443.4 L321.6,443.2 L320.1,443.0 L318.6,442.7 L317.2,442.5 L315.8,442.2 L314.5,442.0 L313.4,441.7 L312.5,441.6 L311.7,441.4 L311.1,441.2 L310.6,441.0 L310.0,440.8 L309.5,440.6 L309.0,440.3 L308.5,440.0 L307.9,439.7 L307.2,439.4 L306.4,439.0 L305.6,438.7 L304.8,438.4 L304.0,438.1 L303.2,437.7 L302.3,437.4 L301.5,437.0 L300.7,436.7 L299.9,436.4 L299.1,436.1 L298.4,435.8 L297.8,435.5 L297.2,435.3 L296.8,435.1 A4.75,4.75 0 0 0 293.2,443.9 Z" fill="#333" stroke="#333" stroke-width="2.00" stroke-linejoin="round"/>
<ellipse cx="412.5" cy="575.5" rx="10.0" ry="6.2" transform="rotate(6 412.5 575.5)" fill="#333"/>
<path d="M293.2,443.9 L293.6,444.1 L294.1,444.3 L294.8,444.5 L295.5,444.8 L296.2,445.1 L297.0,445.5 L297.9,445.8 L298.7,446.2 L299.6,446.5 L300.5,446.9 L301.3,447.2 L302.0,447.5 L302.6,447.7 L303.1,448.0 L303.7,448.2 L304.2,448.5 L304.9,448.9 L305.6,449.2 L306.4,449.5 L307.2,449.9 L308.2,450.2 L309.3,450.5 L310.4,450.8 L311.6,451.1 L312.8,451.3 L314.2,451.5 L315.6,451.7 L317.1,452.0 L318.8,452.2 L320.4,452.4 L322.2,452.5 L324.0,452.7 L325.8,452.7 L327.6,452.7 L329.4,452.7 L331.2,452.5 L332.9,452.2 L334.6,451.8 L336.2,451.4 L337.7,451.0 L339.3,450.5 L340.8,449.9 L342.4,449.3 L343.9,448.6 L345.5,448.0 L347.1,447.2 L348.8,446.5 L350.6,445.7 L352.5,444.8 L354.5,443.9 L356.6,442.8 L358.7,441.8 L360.8,440.6 L363.0,439.5 L365.1,438.4 L367.3,437.2 L369.4,436.1 L371.5,435.1 L373.6,434.1 L375.6,433.2 L377.7,432.2 L379.8,431.3 L382.0,430.4 L384.2,429.5 L386.3,428.6 L388.5,427.8 L390.6,426.9 L392.6,426.2 L394.6,425.5 L396.5,424.9 L398.3,424.3 L400.0,423.9 L401.6,423.5 L403.0,423.2 L404.4,422.9 L405.7,422.7 L406.9,422.6 L408.0,422.5 L409.2,422.5 L410.3,422.5 L411.5,422.6 L412.7,422.6 L414.0,422.8 L415.5,423.0 L417.0,423.2 L418.6,423.5 L420.2,423.9 L421.8,424.3 L423.5,424.7 L425.2,425.2 L426.8,425.7 L428.4,426.2 L429.9,426.8 L431.3,427.5 L432.5,428.1 L433.6,428.8 L434.6,429.6 L435.6,430.3 L436.5,431.2 L437.4,432.1 L438.2,433.1 L439.0,434.2 L439.8,435.3 L440.6,436.4 L441.4,437.7 L442.2,438.9 L442.9,440.2 L443.7,441.6 L444.6,443.0 L445.3,444.3 L446.1,445.5 L446.8,446.7 L447.4,447.9 L448.0,449.2 L448.6,450.4 L449.1,451.8 L449.6,453.3 L450.0,454.9 L450.4,456.8 L450.8,458.9 L451.2,461.3 L451.5,464.1 L451.8,467.1 L452.0,470.4 L452.2,473.8 L452.4,477.3 L452.5,480.8 L452.6,484.4 L452.6,487.8 L452.6,491.0 L452.6,494.1 L452.5,496.9 L452.4,499.4 L452.4,501.8 L452.3,503.9 L452.2,506.0 L452.0,507.9 L451.8,509.7 L451.5,511.5 L451.2,513.3 L450.8,515.1 L450.3,517.0 L449.7,519.1 L449.0,521.3 L448.2,523.7 L447.2,526.2 L446.2,528.9 L445.0,531.7 L443.7,534.5 L442.4,537.3 L441.0,540.1 L439.6,542.8 L438.2,545.4 L436.8,547.8 L435.3,550.0 L434.0,552.0 L432.6,553.8 L431.1,555.5 L429.5,557.1 L427.8,558.7 L426.0,560.3 L424.1,561.7 L422.4,563.1 L420.6,564.3 L419.0,565.5 L417.6,566.6 L416.2,567.6 L415.2,568.5 A4.50,4.50 0 0 0 420.8,575.5 L420.8,575.5 L421.7,574.9 L422.9,574.1 L424.3,573.1 L426.0,572.0 L427.9,570.7 L429.9,569.3 L431.9,567.8 L434.0,566.1 L436.1,564.3 L438.2,562.3 L440.2,560.2 L442.0,558.0 L443.7,555.6 L445.3,553.1 L446.9,550.5 L448.5,547.7 L450.1,544.8 L451.6,541.8 L453.0,538.8 L454.4,535.9 L455.7,532.9 L456.9,530.1 L458.0,527.3 L459.0,524.7 L459.8,522.3 L460.5,519.9 L461.1,517.7 L461.7,515.5 L462.1,513.3 L462.4,511.2 L462.7,509.0 L463.0,506.8 L463.1,504.6 L463.3,502.3 L463.4,499.8 L463.5,497.1 L463.5,494.2 L463.5,491.0 L463.5,487.6 L463.4,484.1 L463.3,480.5 L463.1,476.8 L462.9,473.2 L462.7,469.6 L462.4,466.2 L462.0,462.9 L461.6,459.9 L461.2,457.1 L460.7,454.6 L460.1,452.3 L459.5,450.2 L458.8,448.2 L458.0,446.4 L457.2,444.7 L456.4,443.2 L455.6,441.7 L454.8,440.3 L453.9,439.0 L453.1,437.7 L452.3,436.4 L451.4,435.0 L450.5,433.6 L449.5,432.3 L448.6,430.9 L447.5,429.5 L446.5,428.2 L445.3,426.9 L444.1,425.7 L442.8,424.4 L441.4,423.3 L440.0,422.2 L438.4,421.2 L436.7,420.3 L434.9,419.4 L433.1,418.7 L431.2,418.1 L429.4,417.5 L427.4,417.0 L425.5,416.5 L423.6,416.1 L421.8,415.8 L420.0,415.5 L418.2,415.2 L416.5,415.0 L415.0,414.8 L413.4,414.7 L412.0,414.6 L410.5,414.5 L409.1,414.5 L407.6,414.5 L406.1,414.6 L404.6,414.8 L403.1,415.0 L401.5,415.3 L399.8,415.7 L398.0,416.1 L396.1,416.6 L394.1,417.2 L392.0,417.9 L389.9,418.7 L387.7,419.5 L385.5,420.3 L383.3,421.2 L381.1,422.1 L378.9,423.0 L376.7,424.0 L374.5,424.9 L372.4,425.8 L370.2,426.8 L368.0,427.9 L365.8,429.0 L363.6,430.1 L361.4,431.3 L359.2,432.4 L357.1,433.6 L355.0,434.7 L353.0,435.7 L351.0,436.7 L349.2,437.5 L347.4,438.3 L345.7,439.0 L344.0,439.7 L342.4,440.3 L340.9,440.9 L339.4,441.4 L338.0,441.9 L336.7,442.3 L335.4,442.6 L334.1,442.9 L332.8,443.2 L331.5,443.4 L330.2,443.5 L328.9,443.6 L327.5,443.7 L326.1,443.6 L324.6,443.5 L323.1,443.4 L321.6,443.2 L320.1,443.0 L318.6,442.7 L317.2,442.5 L315.8,442.2 L314.5,442.0 L313.4,441.7 L312.5,441.6 L311.7,441.4 L311.1,441.2 L310.6,441.0 L310.0,440.8 L309.5,440.6 L309.0,440.3 L308.5,440.0 L307.9,439.7 L307.2,439.4 L306.4,439.0 L305.6,438.7 L304.8,438.4 L304.0,438.1 L303.2,437.7 L302.3,437.4 L301.5,437.0 L300.7,436.7 L299.9,436.4 L299.1,436.1 L298.4,435.8 L297.8,435.5 L297.2,435.3 L296.8,435.1 A4.75,4.75 0 0 0 293.2,443.9 Z" fill="#fff"/>
<ellipse cx="412.5" cy="575.5" rx="9" ry="5.2" transform="rotate(6 412.5 575.5)" fill="#fff"/>
</g>
<path d="M362.1,398.9 L362.9,399.4 L363.8,400.1 L365.0,401.0 L366.4,401.9 L367.8,402.9 L369.4,404.0 L371.0,405.1 L372.7,406.2 L374.4,407.3 L376.1,408.3 L377.8,409.3 L379.4,410.1 L380.9,410.9 L382.5,411.6 L384.0,412.3 L385.6,413.0 L387.2,413.6 L388.8,414.2 L390.4,414.8 L392.0,415.4 L393.6,415.8 L395.2,416.3 L396.8,416.6 L398.4,416.9 L400.0,417.2 L401.6,417.4 L403.2,417.5 L404.7,417.5 L406.3,417.5 L407.8,417.5 L409.3,417.4 L410.8,417.2 L412.3,417.1 L413.7,416.9 L415.2,416.7 L416.6,416.5 L418.0,416.2 L419.3,416.0 L420.7,415.7 L422.0,415.4 L423.4,415.0 L424.8,414.6 L426.1,414.2 L427.5,413.7 L429.0,413.2 L430.4,412.6 L432.0,411.9 L433.6,411.1 L435.3,410.3 L437.0,409.3 L438.8,408.2 L440.5,407.1 L442.3,405.9 L444.1,404.8 L445.9,403.6 L447.7,402.4 L449.5,401.3 L451.2,400.2 L453.0,399.2 L454.7,398.3 L456.5,397.5 L458.4,396.6 L460.3,395.8 L462.2,394.9 L464.1,394.1 L466.1,393.4 L468.0,392.7 L469.9,392.0 L471.7,391.4 L473.5,390.8 L475.3,390.3 L477.0,389.9 L478.6,389.5 L480.2,389.2 L481.8,388.9 L483.3,388.6 L484.8,388.5 L486.3,388.3 L487.7,388.2 L489.1,388.2 L490.5,388.2 L491.8,388.3 L493.1,388.4 L494.4,388.6 L495.6,388.8 L496.8,389.1 L497.9,389.5 L499.1,389.9 L500.2,390.4 L501.3,390.9 L502.4,391.5 L503.5,392.1 L504.5,392.7 L505.5,393.3 L506.5,394.0 L507.5,394.7 L508.4,395.4 L509.3,396.1 L510.2,396.8 L510.9,397.4 L511.6,398.0 L512.2,398.7 L512.8,399.3 L513.3,400.0 L513.9,400.8 L514.4,401.7 L514.9,402.8 L515.4,404.0 L515.9,405.4 L516.5,407.0 L517.0,408.8 L517.5,410.7 L518.0,412.7 L518.4,414.8 L518.9,417.0 L519.3,419.3 L519.6,421.6 L520.0,424.0 L520.3,426.3 L520.5,428.7 L520.8,431.1 L521.1,433.5 L521.3,436.0 L521.5,438.5 L521.7,441.1 L521.8,443.7 L521.9,446.3 L521.9,448.9 L521.9,451.6 L521.9,454.2 L521.7,456.9 L521.5,459.5 L521.2,462.2 L520.9,465.1 L520.4,468.1 L520.0,471.1 L519.4,474.2 L518.8,477.2 L518.2,480.2 L517.5,483.2 L516.8,486.0 L516.1,488.6 L515.4,491.1 L514.8,493.3 L514.1,495.4 L513.5,497.2 L512.8,498.9 L512.1,500.5 L511.4,502.0 L510.7,503.4 L510.0,504.8 L509.2,506.1 L508.5,507.3 L507.7,508.6 L506.8,509.8 L506.0,511.0 L505.2,512.1 L504.4,513.1 L503.4,514.1 L502.4,515.1 L501.4,516.1 L500.3,517.0 L499.3,517.9 L498.3,518.8 L497.4,519.6 L496.5,520.3 L495.7,521.0 L495.1,521.6 A4.50,4.50 0 0 0 500.9,528.4 L500.9,528.4 L501.5,528.0 L502.2,527.5 L503.1,526.9 L504.1,526.1 L505.2,525.3 L506.4,524.3 L507.7,523.3 L509.0,522.2 L510.3,521.0 L511.6,519.8 L512.8,518.4 L514.0,517.0 L515.0,515.7 L516.0,514.4 L517.0,513.1 L517.9,511.6 L518.9,510.2 L519.9,508.6 L520.8,506.9 L521.8,505.1 L522.7,503.2 L523.6,501.2 L524.4,499.0 L525.2,496.7 L526.0,494.2 L526.7,491.5 L527.5,488.6 L528.2,485.7 L528.9,482.6 L529.6,479.4 L530.2,476.2 L530.8,473.0 L531.3,469.8 L531.8,466.6 L532.2,463.5 L532.5,460.5 L532.7,457.6 L532.8,454.6 L532.9,451.7 L532.9,448.9 L532.9,446.0 L532.8,443.2 L532.7,440.4 L532.5,437.7 L532.3,435.0 L532.0,432.4 L531.8,429.8 L531.5,427.3 L531.1,424.8 L530.7,422.3 L530.2,419.8 L529.8,417.4 L529.2,414.9 L528.7,412.5 L528.1,410.2 L527.5,408.0 L526.8,405.8 L526.1,403.8 L525.4,401.8 L524.6,400.0 L523.8,398.3 L522.9,396.8 L521.9,395.4 L521.0,394.1 L519.9,392.9 L518.9,391.9 L517.8,391.0 L516.8,390.1 L515.7,389.4 L514.7,388.7 L513.6,388.0 L512.5,387.3 L511.4,386.6 L510.2,385.8 L508.9,385.1 L507.6,384.4 L506.2,383.8 L504.8,383.1 L503.4,382.6 L501.9,382.1 L500.4,381.6 L498.8,381.2 L497.2,380.9 L495.6,380.6 L494.0,380.4 L492.4,380.3 L490.7,380.2 L489.1,380.2 L487.4,380.2 L485.7,380.3 L484.0,380.5 L482.2,380.7 L480.5,381.0 L478.7,381.3 L476.9,381.7 L475.0,382.1 L473.1,382.6 L471.2,383.2 L469.2,383.9 L467.2,384.6 L465.2,385.4 L463.2,386.2 L461.2,387.0 L459.1,387.9 L457.1,388.8 L455.2,389.7 L453.2,390.7 L451.3,391.7 L449.4,392.7 L447.4,393.8 L445.5,395.0 L443.7,396.3 L441.8,397.5 L440.0,398.7 L438.3,400.0 L436.6,401.1 L434.9,402.2 L433.4,403.2 L431.9,404.1 L430.4,404.9 L429.0,405.5 L427.7,406.1 L426.4,406.7 L425.1,407.1 L423.9,407.6 L422.7,407.9 L421.6,408.3 L420.4,408.6 L419.2,408.8 L418.0,409.1 L416.7,409.3 L415.4,409.5 L414.1,409.8 L412.8,410.0 L411.4,410.1 L410.1,410.3 L408.8,410.4 L407.5,410.5 L406.1,410.5 L404.8,410.5 L403.5,410.5 L402.2,410.4 L400.9,410.2 L399.6,410.1 L398.3,409.8 L396.9,409.5 L395.5,409.1 L394.1,408.7 L392.7,408.2 L391.2,407.7 L389.8,407.1 L388.3,406.5 L386.9,405.9 L385.4,405.2 L384.0,404.6 L382.6,403.9 L381.2,403.1 L379.7,402.3 L378.1,401.3 L376.5,400.3 L374.9,399.3 L373.3,398.2 L371.8,397.2 L370.4,396.1 L369.0,395.2 L367.8,394.4 L366.8,393.7 L365.9,393.1 A3.50,3.50 0 0 0 362.1,398.9 Z" fill="#333" stroke="#333" stroke-width="2.00" stroke-linejoin="round"/>
<ellipse cx="494.5" cy="527" rx="9.5" ry="5.8" transform="rotate(6 494.5 527)" fill="#333"/>
<path d="M362.1,398.9 L362.9,399.4 L363.8,400.1 L365.0,401.0 L366.4,401.9 L367.8,402.9 L369.4,404.0 L371.0,405.1 L372.7,406.2 L374.4,407.3 L376.1,408.3 L377.8,409.3 L379.4,410.1 L380.9,410.9 L382.5,411.6 L384.0,412.3 L385.6,413.0 L387.2,413.6 L388.8,414.2 L390.4,414.8 L392.0,415.4 L393.6,415.8 L395.2,416.3 L396.8,416.6 L398.4,416.9 L400.0,417.2 L401.6,417.4 L403.2,417.5 L404.7,417.5 L406.3,417.5 L407.8,417.5 L409.3,417.4 L410.8,417.2 L412.3,417.1 L413.7,416.9 L415.2,416.7 L416.6,416.5 L418.0,416.2 L419.3,416.0 L420.7,415.7 L422.0,415.4 L423.4,415.0 L424.8,414.6 L426.1,414.2 L427.5,413.7 L429.0,413.2 L430.4,412.6 L432.0,411.9 L433.6,411.1 L435.3,410.3 L437.0,409.3 L438.8,408.2 L440.5,407.1 L442.3,405.9 L444.1,404.8 L445.9,403.6 L447.7,402.4 L449.5,401.3 L451.2,400.2 L453.0,399.2 L454.7,398.3 L456.5,397.5 L458.4,396.6 L460.3,395.8 L462.2,394.9 L464.1,394.1 L466.1,393.4 L468.0,392.7 L469.9,392.0 L471.7,391.4 L473.5,390.8 L475.3,390.3 L477.0,389.9 L478.6,389.5 L480.2,389.2 L481.8,388.9 L483.3,388.6 L484.8,388.5 L486.3,388.3 L487.7,388.2 L489.1,388.2 L490.5,388.2 L491.8,388.3 L493.1,388.4 L494.4,388.6 L495.6,388.8 L496.8,389.1 L497.9,389.5 L499.1,389.9 L500.2,390.4 L501.3,390.9 L502.4,391.5 L503.5,392.1 L504.5,392.7 L505.5,393.3 L506.5,394.0 L507.5,394.7 L508.4,395.4 L509.3,396.1 L510.2,396.8 L510.9,397.4 L511.6,398.0 L512.2,398.7 L512.8,399.3 L513.3,400.0 L513.9,400.8 L514.4,401.7 L514.9,402.8 L515.4,404.0 L515.9,405.4 L516.5,407.0 L517.0,408.8 L517.5,410.7 L518.0,412.7 L518.4,414.8 L518.9,417.0 L519.3,419.3 L519.6,421.6 L520.0,424.0 L520.3,426.3 L520.5,428.7 L520.8,431.1 L521.1,433.5 L521.3,436.0 L521.5,438.5 L521.7,441.1 L521.8,443.7 L521.9,446.3 L521.9,448.9 L521.9,451.6 L521.9,454.2 L521.7,456.9 L521.5,459.5 L521.2,462.2 L520.9,465.1 L520.4,468.1 L520.0,471.1 L519.4,474.2 L518.8,477.2 L518.2,480.2 L517.5,483.2 L516.8,486.0 L516.1,488.6 L515.4,491.1 L514.8,493.3 L514.1,495.4 L513.5,497.2 L512.8,498.9 L512.1,500.5 L511.4,502.0 L510.7,503.4 L510.0,504.8 L509.2,506.1 L508.5,507.3 L507.7,508.6 L506.8,509.8 L506.0,511.0 L505.2,512.1 L504.4,513.1 L503.4,514.1 L502.4,515.1 L501.4,516.1 L500.3,517.0 L499.3,517.9 L498.3,518.8 L497.4,519.6 L496.5,520.3 L495.7,521.0 L495.1,521.6 A4.50,4.50 0 0 0 500.9,528.4 L500.9,528.4 L501.5,528.0 L502.2,527.5 L503.1,526.9 L504.1,526.1 L505.2,525.3 L506.4,524.3 L507.7,523.3 L509.0,522.2 L510.3,521.0 L511.6,519.8 L512.8,518.4 L514.0,517.0 L515.0,515.7 L516.0,514.4 L517.0,513.1 L517.9,511.6 L518.9,510.2 L519.9,508.6 L520.8,506.9 L521.8,505.1 L522.7,503.2 L523.6,501.2 L524.4,499.0 L525.2,496.7 L526.0,494.2 L526.7,491.5 L527.5,488.6 L528.2,485.7 L528.9,482.6 L529.6,479.4 L530.2,476.2 L530.8,473.0 L531.3,469.8 L531.8,466.6 L532.2,463.5 L532.5,460.5 L532.7,457.6 L532.8,454.6 L532.9,451.7 L532.9,448.9 L532.9,446.0 L532.8,443.2 L532.7,440.4 L532.5,437.7 L532.3,435.0 L532.0,432.4 L531.8,429.8 L531.5,427.3 L531.1,424.8 L530.7,422.3 L530.2,419.8 L529.8,417.4 L529.2,414.9 L528.7,412.5 L528.1,410.2 L527.5,408.0 L526.8,405.8 L526.1,403.8 L525.4,401.8 L524.6,400.0 L523.8,398.3 L522.9,396.8 L521.9,395.4 L521.0,394.1 L519.9,392.9 L518.9,391.9 L517.8,391.0 L516.8,390.1 L515.7,389.4 L514.7,388.7 L513.6,388.0 L512.5,387.3 L511.4,386.6 L510.2,385.8 L508.9,385.1 L507.6,384.4 L506.2,383.8 L504.8,383.1 L503.4,382.6 L501.9,382.1 L500.4,381.6 L498.8,381.2 L497.2,380.9 L495.6,380.6 L494.0,380.4 L492.4,380.3 L490.7,380.2 L489.1,380.2 L487.4,380.2 L485.7,380.3 L484.0,380.5 L482.2,380.7 L480.5,381.0 L478.7,381.3 L476.9,381.7 L475.0,382.1 L473.1,382.6 L471.2,383.2 L469.2,383.9 L467.2,384.6 L465.2,385.4 L463.2,386.2 L461.2,387.0 L459.1,387.9 L457.1,388.8 L455.2,389.7 L453.2,390.7 L451.3,391.7 L449.4,392.7 L447.4,393.8 L445.5,395.0 L443.7,396.3 L441.8,397.5 L440.0,398.7 L438.3,400.0 L436.6,401.1 L434.9,402.2 L433.4,403.2 L431.9,404.1 L430.4,404.9 L429.0,405.5 L427.7,406.1 L426.4,406.7 L425.1,407.1 L423.9,407.6 L422.7,407.9 L421.6,408.3 L420.4,408.6 L419.2,408.8 L418.0,409.1 L416.7,409.3 L415.4,409.5 L414.1,409.8 L412.8,410.0 L411.4,410.1 L410.1,410.3 L408.8,410.4 L407.5,410.5 L406.1,410.5 L404.8,410.5 L403.5,410.5 L402.2,410.4 L400.9,410.2 L399.6,410.1 L398.3,409.8 L396.9,409.5 L395.5,409.1 L394.1,408.7 L392.7,408.2 L391.2,407.7 L389.8,407.1 L388.3,406.5 L386.9,405.9 L385.4,405.2 L384.0,404.6 L382.6,403.9 L381.2,403.1 L379.7,402.3 L378.1,401.3 L376.5,400.3 L374.9,399.3 L373.3,398.2 L371.8,397.2 L370.4,396.1 L369.0,395.2 L367.8,394.4 L366.8,393.7 L365.9,393.1 A3.50,3.50 0 0 0 362.1,398.9 Z" fill="#fff"/>
<ellipse cx="494.5" cy="527" rx="8.5" ry="4.8" transform="rotate(6 494.5 527)" fill="#fff"/>
<!-- tray -->
<g id="tray">
<path class="d" d="M144.5,220 L285.7,211.6 L352,239.5 L352.9,259.5 L203,272.6 L165,252 L163.5,230 Z"/>
<path class="n" d="M201.4,250.2 L352,239.5 M201.4,250.2 L203,272.6 M163.5,230.1 L201.4,250.2 M164.3,231.8 L200.6,252.3 L352,241"/>
<path class="n" d="M168,235.5 L286.6,226.4 L321.4,241.7 M285.7,211.6 L286.6,226.4 M184.4,239.6 L209.9,238.6"/>
<path class="n" d="M209.9,238.6 L275.5,232.3 L292.5,240.8 L213.7,247.1 Z"/>
</g>
<!-- crank -->
<g id="crank">
<circle class="d" cx="201" cy="181.5" r="9.2"/>
<path class="d" d="M195.9,190 L196.6,196.5 Q201,199 205.7,196.5 L206.4,190 Q201,191.5 195.9,190 Z"/>
<path class="d" d="M141.7,220 L141.7,204.5 Q141.7,202.7 143.5,202.6 L205.7,199.9 Q207,199.9 207,201.5 L207,204.1 L155.6,207.6 L154.9,219.4 Z"/>
</g>

<!-- post lower -->
<g id="postlow">
<path class="d" d="M143.6,347.7 L145.7,383.4 L166.8,382.2 L166.8,347 Z"/>
<path class="n" d="M151.3,349.3 L152.4,383.4"/>
<path class="d" d="M140.6,346.3 Q146,349.5 151.3,349.3 L167.3,346.3"/>
</g>
<g id="wheel">
<ellipse class="d" cx="193" cy="458.7" rx="53.2" ry="59.6" transform="rotate(23 193 458.7)"/>
<path class="n" d="M224.4,416.1 A45.8 50 24 0 0 176.2,501.5"/>
<ellipse class="d" cx="203.6" cy="462.1" rx="21.5" ry="26.8" transform="rotate(17 203.6 462.1)"/>
<path class="d" d="M131.7,404.5 L149.7,429.4 L158.3,418.9 L168.2,423.3 L178.1,438.1 L198.3,466.4 Q203,474 208,473.5 Q215,472 215.8,463.5 L214.4,454.3 L198.3,416.1 L186.7,401.6 L173.8,396 L143.5,400.4 L133.6,402.2 Q131,403 131.7,404.5 Z"/>
<path class="n" d="M136.1,407.8 L158.3,418.9 M154.6,411.5 L181.8,402.9"/>
<ellipse class="d" cx="209.6" cy="465.3" rx="3.6" ry="5.6" transform="rotate(25 209.6 465.3)"/>
<path class="d" d="M143.5,393 L143.5,400.4 Q147,406 160.8,406.6 Q171,405 173.8,399.8 L173.8,390.5 Z"/>
<path class="d" d="M127.4,377.1 L168.3,372.5 L184.5,382.5 L183.8,386.4 L144.4,393.3 L128.1,381.7 Z"/>
<path class="n" d="M127.4,377.1 L144.4,388.7 L184.5,382.5 M144.4,388.7 L144.4,393.3"/>
<path d="M143.3,369 L145.7,383.4 L166.8,382.2 L166.8,369 Z" fill="#fff"/>
<path class="n" d="M143.2,367 L145.7,383.4 L166.8,382.2 L166.8,367 M151.2,367 L152.4,383.4"/>
</g>
<!-- post -->
<g id="post">
<path class="d" d="M136.1,225 L140.6,346.3 L167.3,346.3 L163.2,225 L158.4,219.4 L140.3,220.8 Z"/>
<path class="n" d="M136.1,225.6 L143.1,227.7 L163.2,225.6 M142.4,227.7 L145.5,347"/>
</g>
</g>
<g id="leaders">
<line class="ld" x1="173" y1="58" x2="173" y2="201"/>
<line class="ld" x1="295.3" y1="57.5" x2="295.3" y2="225"/>
<line class="ld" x1="432.2" y1="57" x2="432.2" y2="302"/>
<line class="ld" x1="427" y1="334.2" x2="576" y2="334.2"/>
<line class="ld" x1="85" y1="251.3" x2="153" y2="251.3" stroke-dasharray="14 12.5"/>
<line class="ld" x1="76" y1="365.8" x2="157" y2="365.8"/>
<line class="ld" x1="153.6" y1="474" x2="153.6" y2="692"/>
<line class="ld" x1="198" y1="439" x2="198" y2="692"/>
<line class="ld" x1="310.7" y1="357.5" x2="310.7" y2="692"/>
<line class="ld" x1="404.9" y1="588" x2="404.9" y2="689" style="stroke:#3a3a3a"/>
</g>
<g id="callouts">
<circle class="c" cx="169" cy="40.8" r="12.8"/><text class="t" transform="translate(168.6 44.7) scale(0.9 1)">1</text>
<circle class="c" cx="286" cy="35.9" r="12.8"/><text class="t" transform="translate(285.6 39.8) scale(0.9 1)">10</text>
<circle class="c" cx="426.9" cy="38.9" r="12.8"/><text class="t" transform="translate(426.5 42.8) scale(0.9 1)">2</text>
<circle class="c" cx="51" cy="251.7" r="12.8"/><text class="t" transform="translate(50.6 255.6) scale(0.9 1)">9</text>
<circle class="c" cx="55.7" cy="366" r="12.8"/><text class="t" transform="translate(55.3 369.9) scale(0.9 1)">7</text>
<circle cx="595" cy="334" r="12" fill="#236f38"/><text class="t" transform="translate(594.6 337.9) scale(0.9 1)" style="fill:#fff">3</text>
<circle class="c" cx="148.9" cy="712.7" r="12.8"/><text class="t" transform="translate(148.5 716.6) scale(0.9 1)">6</text>
<circle class="c" cx="194.2" cy="712" r="12.8"/><text class="t" transform="translate(193.8 715.9) scale(0.9 1)">8</text>
<circle class="c" cx="308.9" cy="712.8" r="12.8"/><text class="t" transform="translate(308.5 716.7) scale(0.9 1)">4</text>
<circle class="c" cx="399.9" cy="707" r="12.8"/><text class="t" transform="translate(399.5 710.9) scale(0.9 1)">5</text>
</g>
</svg>
</body></html>
